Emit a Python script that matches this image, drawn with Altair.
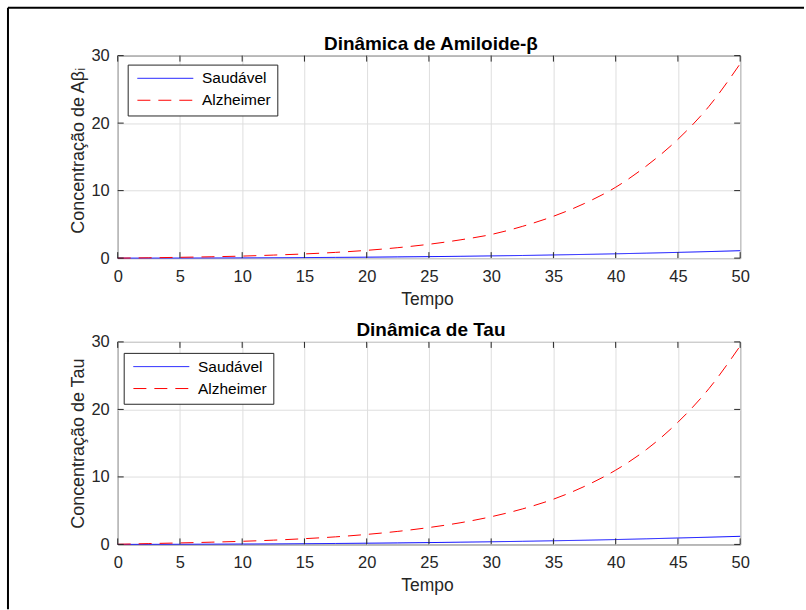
import altair as alt
import pandas as pd

# ---------------- data ----------------
tempo = [0, 2.5, 5, 7.5, 10, 12.5, 15, 17.5, 20, 22.5, 25,
         27.5, 30, 32.5, 35, 37.5, 40, 42.5, 45, 47.5, 50]

abeta_saudavel = [0.0, 0.005, 0.012, 0.025, 0.04, 0.06, 0.08, 0.11, 0.14, 0.18, 0.22,
                  0.27, 0.33, 0.39, 0.47, 0.55, 0.64, 0.74, 0.85, 0.97, 1.1]
abeta_alzheimer = [0.0, 0.05, 0.12, 0.2, 0.3, 0.45, 0.62, 0.85, 1.15, 1.55, 2.05,
                   2.7, 3.5, 4.7, 6.2, 8.1, 10.5, 13.7, 17.6, 22.5, 28.8]

tau_saudavel = [0.0, 0.01, 0.02, 0.04, 0.06, 0.08, 0.11, 0.14, 0.18, 0.22, 0.27,
                0.33, 0.39, 0.46, 0.54, 0.62, 0.72, 0.83, 0.95, 1.07, 1.2]
tau_alzheimer = [0.02, 0.12, 0.22, 0.33, 0.46, 0.63, 0.85, 1.12, 1.48, 1.93, 2.5,
                 3.2, 4.1, 5.25, 6.7, 8.6, 11.0, 14.1, 18.1, 23.1, 29.4]

series = ["Saudável", "Alzheimer"]
x_ticks = [0, 5, 10, 15, 20, 25, 30, 35, 40, 45, 50]
y_ticks = [0, 10, 20, 30]

titles = ["Dinâmica de Amiloide-β", "Dinâmica de Tau"]
y_titles = ["Concentração de Aβᵢ", "Concentração de Tau"]
x_title = "Tempo"

# ---------------- styling ----------------
FONT = "Liberation Sans"
W, H = 624, 203
AX = "#262626"
GRID = "#dedede"
TICK = 6


def panel(saud, alz, title, ytitle, ytitle_y, leg_x, leg_y, frame_y0, frame_y1, top_frame):
    n = len(tempo)
    df = pd.DataFrame({
        "t": tempo + tempo,
        "v": saud + alz,
        "Série": [series[0]] * n + [series[1]] * n,
    })
    xs = alt.Scale(domain=[0, 50], nice=False, zero=False)
    ys = alt.Scale(domain=[0, 30], nice=False)
    xaxis = alt.Axis(values=x_ticks, title=x_title, grid=True, gridColor=GRID, domain=False,
                     ticks=False, labelPadding=10, labelFontSize=16.5, labelFont=FONT,
                     labelColor=AX, labelFlush=False, titleFont=FONT, titleFontSize=17.5,
                     titleFontWeight="normal", titleColor=AX, titleY=46,
                     titleBaseline="alphabetic", titleX=310)
    yaxis = alt.Axis(values=y_ticks, title=ytitle, grid=True, gridColor=GRID, domain=False,
                     ticks=False, labelPadding=8.5, labelFontSize=16.5, labelFont=FONT,
                     labelColor=AX, labelFlush=False, titleFont=FONT, titleFontSize=18,
                     titleFontWeight="normal", titleColor=AX, titleX=-34, titleY=ytitle_y,
                     titleAngle=270, titleAlign="center", titleBaseline="alphabetic")
    legend = alt.Legend(orient="none", legendX=leg_x, legendY=leg_y, title=None,
                        strokeColor=AX, fillColor="white", padding=6,
                        labelFont=FONT, labelFontSize=15.5, labelColor="#000",
                        symbolType="M-1,0H13", symbolSize=64, symbolStrokeWidth=1,
                        labelOffset=53, rowPadding=5)
    color = alt.Color("Série:N", scale=alt.Scale(domain=series, range=["#0000ff", "#ff0000"]),
                      legend=legend)
    dash = alt.StrokeDash("Série:N", scale=alt.Scale(domain=series, range=[[1, 0], [13, 8]]),
                          legend=legend)
    x_enc = alt.X("t:Q", scale=xs, axis=xaxis)
    y_enc = alt.Y("v:Q", scale=ys, axis=yaxis)

    lines = alt.Chart(df).mark_line(strokeWidth=1, interpolate="monotone").encode(
        x=x_enc, y=y_enc, color=color, strokeDash=dash)

    xt = pd.DataFrame({"t": x_ticks})
    yt = pd.DataFrame({"v": y_ticks})
    tick_top = alt.Chart(xt).mark_rule(color=AX, strokeWidth=1).encode(
        x=x_enc, y=alt.value(0), y2=alt.value(TICK))
    tick_bot = alt.Chart(xt).mark_rule(color=AX, strokeWidth=1).encode(
        x=x_enc, y=alt.value(H - TICK), y2=alt.value(H))
    tick_left = alt.Chart(yt).mark_rule(color=AX, strokeWidth=1).encode(
        y=y_enc, x=alt.value(0), x2=alt.value(TICK))
    tick_right = alt.Chart(yt).mark_rule(color=AX, strokeWidth=1).encode(
        y=y_enc, x=alt.value(W - TICK), x2=alt.value(W))

    one = pd.DataFrame({"k": [0]})
    layers = [lines, tick_top, tick_bot, tick_left, tick_right]
    layers.append(alt.Chart(one).mark_rule(color="#000", strokeWidth=2).encode(
        x=alt.value(-110), y=alt.value(frame_y0), y2=alt.value(frame_y1)))
    if top_frame:
        layers.append(alt.Chart(one).mark_rule(color="#000", strokeWidth=2).encode(
            y=alt.value(-48), x=alt.value(-110), x2=alt.value(688)))
    layers.append(alt.Chart(one).mark_text(text=title, font=FONT, fontSize=19,
                                           fontWeight="bold", color="#000",
                                           baseline="alphabetic", align="center").encode(
        x=alt.value(314), y=alt.value(-6)))
    return alt.layer(*layers).properties(width=W, height=H)


top = panel(abeta_saudavel, abeta_alzheimer, titles[0], y_titles[0], 95, 10, 9, -48, 287, True)
bot = panel(tau_saudavel, tau_alzheimer, titles[1], y_titles[1], 101.5, 6, 11, -90, 268, False)

chart = alt.vconcat(top, bot, spacing=84, bounds="flush").properties(
    padding={"left": 6, "top": 5, "right": 0, "bottom": 0},
    background="white",
).configure_view(stroke=AX, strokeWidth=1).resolve_scale(color="independent",
                                                          strokeDash="independent")

chart.save("out.html", embed_options={"renderer": "svg", "actions": False})
